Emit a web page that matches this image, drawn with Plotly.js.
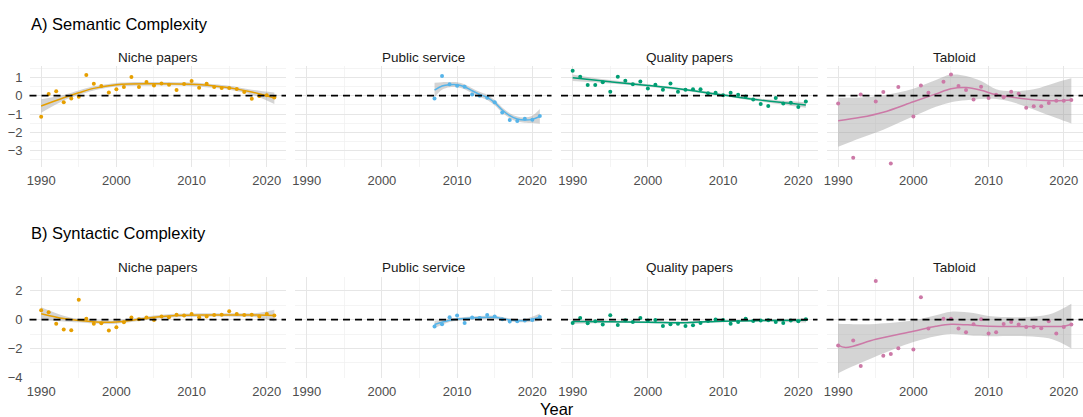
<!DOCTYPE html>
<html>
<head>
<meta charset="utf-8">
<script src="https://cdn.plot.ly/plotly-3.0.1.min.js"></script>
<style>
  html, body { margin: 0; padding: 0; background: #ffffff; }
  #chart { width: 1083px; height: 417px; }
</style>
</head>
<body>
<div id="chart"></div>
<script>
// ---------- data ----------
const groups = ["Niche papers", "Public service", "Quality papers", "Tabloid"];
const groupColors = ["#E69F00", "#56B4E9", "#009E73", "#CC79A7"];
const rowTitles = ["A) Semantic Complexity", "B) Syntactic Complexity"];

const yearsFull = [1990,1991,1992,1993,1994,1995,1996,1997,1998,1999,2000,2001,2002,2003,2004,2005,
                   2006,2007,2008,2009,2010,2011,2012,2013,2014,2015,2016,2017,2018,2019,2020,2021];
const yearsPublic = [2007,2008,2009,2010,2011,2012,2013,2014,2015,2016,2017,2018,2019,2020,2021];
const yearsTabloid = [1990,1992,1993,1995,1996,1997,1998,2000,2001,2002,2004,2005,2006,2007,2008,
                      2009,2010,2011,2012,2013,2014,2015,2016,2017,2018,2019,2020,2021];

// Semantic complexity, yearly means
const semNiche = [-1.15,0.09,0.24,-0.35,-0.15,-0.05,1.13,0.65,0.53,0.18,0.35,0.47,1.02,0.47,0.75,0.56,
                  0.67,0.6,0.31,0.64,0.8,0.44,0.65,0.47,0.42,0.42,0.36,0.2,-0.16,-0.02,0.02,-0.1];
const semPublic = [-0.15,1.07,0.62,0.55,0.49,0.07,0.0,-0.11,-0.36,-0.91,-1.33,-1.38,-1.25,-1.31,-1.11];
const semQuality = [1.36,1.04,0.58,0.58,0.73,0.22,1.04,0.82,0.62,0.78,0.4,0.6,0.33,0.67,0.22,0.33,
                    0.35,0.35,0.13,0.16,0.02,0.16,0.05,-0.04,-0.2,-0.45,-0.56,-0.13,-0.42,-0.38,-0.62,-0.31];
const semTabloid = [-0.42,-3.38,0.07,-0.31,0.2,-3.69,0.47,-1.13,0.56,0.16,0.76,1.16,0.53,0.31,-0.2,
                    0.49,-0.13,0.05,-0.09,0.22,0.11,-0.65,-0.58,-0.58,-0.4,-0.27,-0.27,-0.24];

// Syntactic complexity, yearly means
const synNiche = [0.64,0.51,-0.28,-0.69,-0.74,1.38,0.05,-0.28,-0.25,-0.76,-0.53,-0.18,0.14,0.02,0.14,-0.02,
                  0.21,0.16,0.34,0.28,0.39,0.16,0.21,0.32,0.34,0.57,0.39,0.32,0.34,0.21,0.39,0.28];
const synPublic = [-0.48,-0.32,0.16,0.28,-0.23,0.14,0.11,0.32,0.21,0.02,-0.14,-0.11,-0.07,-0.02,0.18];
const synQuality = [-0.23,0.11,-0.25,-0.11,-0.34,0.3,-0.37,-0.05,-0.16,0.11,-0.07,-0.02,-0.44,-0.32,-0.28,-0.44,
                    -0.39,-0.23,-0.09,0.0,-0.02,-0.28,-0.16,0.05,-0.09,-0.07,-0.05,-0.16,-0.23,-0.07,-0.11,0.02];
const synTabloid = [-1.79,-1.45,-3.22,2.67,-2.51,-2.39,-1.98,-2.07,1.54,-0.62,0.05,0.05,-0.62,-0.87,-0.32,
                    0.02,-0.97,-0.87,-0.3,-0.16,-0.34,-0.51,-0.51,-0.6,-0.11,-0.97,-0.51,-0.34];

// Smoothed trends with confidence bands
const fitSemNicheX = [1990,1993,1995,1997,2000,2005,2010,2013,2015,2018,2021];
const fitSemNiche  = [-0.56,-0.11,0.16,0.4,0.6,0.65,0.62,0.53,0.44,0.2,-0.13];
const fitSemNicheLo = [-0.93,-0.26,0.04,0.29,0.5,0.55,0.52,0.43,0.33,0.07,-0.45];
const fitSemNicheHi = [-0.19,0.04,0.28,0.51,0.7,0.75,0.72,0.63,0.55,0.33,0.17];

const fitSemPublicX = [2007,2008,2009,2010,2011,2012,2013,2014,2015,2016,2017,2018,2019,2020,2021];
const fitSemPublic  = [0.31,0.53,0.6,0.6,0.49,0.27,0.07,-0.09,-0.38,-0.78,-1.09,-1.27,-1.33,-1.29,-1.13];
const fitSemPublicLo = [-0.09,0.32,0.46,0.46,0.35,0.13,-0.07,-0.23,-0.52,-0.92,-1.23,-1.41,-1.48,-1.49,-1.53];
const fitSemPublicHi = [0.71,0.74,0.74,0.74,0.63,0.41,0.21,0.05,-0.24,-0.64,-0.95,-1.13,-1.18,-1.09,-0.73];

const fitSemQualityX = [1990,1995,2000,2005,2010,2015,2021];
const fitSemQuality  = [0.98,0.76,0.56,0.33,0.04,-0.24,-0.51];
const fitSemQualityLo = [0.8,0.67,0.49,0.26,-0.03,-0.32,-0.66];
const fitSemQualityHi = [1.16,0.85,0.63,0.4,0.11,-0.16,-0.36];

const fitSemTabloidX = [1990,1993,1996,2000,2003,2005,2007,2009,2011,2013,2016,2019,2021];
const fitSemTabloid  = [-1.36,-1.18,-0.9,-0.33,0.1,0.38,0.45,0.3,0.05,-0.07,-0.22,-0.28,-0.24];
const fitSemTabloidLo = [-2.78,-2.3,-1.85,-1.12,-0.6,-0.35,-0.25,-0.18,-0.18,-0.33,-0.75,-1.22,-1.52];
const fitSemTabloidHi = [-0.11,-0.1,0.02,0.38,0.85,1.15,1.08,0.8,0.35,0.25,0.35,0.72,0.95];

const fitSynNicheX = [1990,1993,1995,1998,2000,2003,2005,2008,2012,2016,2019,2021];
const fitSynNiche  = [0.41,0.07,-0.07,-0.18,-0.16,0.02,0.16,0.28,0.32,0.32,0.31,0.28];
const fitSynNicheLo = [-0.05,-0.13,-0.19,-0.3,-0.28,-0.1,0.04,0.16,0.2,0.2,0.15,-0.14];
const fitSynNicheHi = [0.86,0.27,0.05,-0.06,-0.04,0.14,0.28,0.4,0.44,0.44,0.47,0.68];

const fitSynPublicX = [2007,2009,2011,2013,2015,2017,2019,2021];
const fitSynPublic  = [-0.34,-0.05,0.07,0.14,0.16,-0.02,-0.07,0.16];
const fitSynPublicLo = [-0.6,-0.17,-0.04,0.03,0.05,-0.13,-0.19,-0.1];
const fitSynPublicHi = [-0.08,0.07,0.18,0.25,0.27,0.09,0.05,0.42];

const fitSynQualityX = [1990,1995,2000,2005,2010,2015,2021];
const fitSynQuality  = [-0.14,-0.15,-0.18,-0.21,-0.11,-0.07,-0.05];
const fitSynQualityLo = [-0.3,-0.24,-0.26,-0.29,-0.19,-0.15,-0.2];
const fitSynQualityHi = [0.02,-0.06,-0.1,-0.13,-0.03,0.01,0.1];

const fitSynTabloidX = [1990,1991,1995,2000,2003,2005,2008,2010,2015,2018,2020,2021];
const fitSynTabloid  = [-1.77,-1.93,-1.36,-0.8,-0.46,-0.32,-0.39,-0.46,-0.48,-0.48,-0.46,-0.32];
const fitSynTabloidLo = [-3.72,-3.45,-2.55,-1.55,-1.15,-1.0,-1.12,-1.15,-1.15,-1.3,-1.7,-2.0];
const fitSynTabloidHi = [-0.28,-0.3,-0.3,-0.05,0.3,0.55,0.45,0.25,0.18,0.35,0.8,1.1];

// ---------- panel setup ----------
const panels = [
  { x: yearsFull,    y: semNiche,   fx: fitSemNicheX,   f: fitSemNiche,   lo: fitSemNicheLo,   hi: fitSemNicheHi },
  { x: yearsPublic,  y: semPublic,  fx: fitSemPublicX,  f: fitSemPublic,  lo: fitSemPublicLo,  hi: fitSemPublicHi },
  { x: yearsFull,    y: semQuality, fx: fitSemQualityX, f: fitSemQuality, lo: fitSemQualityLo, hi: fitSemQualityHi },
  { x: yearsTabloid, y: semTabloid, fx: fitSemTabloidX, f: fitSemTabloid, lo: fitSemTabloidLo, hi: fitSemTabloidHi },
  { x: yearsFull,    y: synNiche,   fx: fitSynNicheX,   f: fitSynNiche,   lo: fitSynNicheLo,   hi: fitSynNicheHi },
  { x: yearsPublic,  y: synPublic,  fx: fitSynPublicX,  f: fitSynPublic,  lo: fitSynPublicLo,  hi: fitSynPublicHi },
  { x: yearsFull,    y: synQuality, fx: fitSynQualityX, f: fitSynQuality, lo: fitSynQualityLo, hi: fitSynQualityHi },
  { x: yearsTabloid, y: synTabloid, fx: fitSynTabloidX, f: fitSynTabloid, lo: fitSynTabloidLo, hi: fitSynTabloidHi }
];

const W = 1083, H = 417;
const FONT = "Liberation Sans, Arial, Helvetica, sans-serif";
const colLeft = [29.5, 295, 561, 826.5];   // px
const colWidth = 256.5;
const rowBox = [[66, 166.7], [276.7, 377.8]]; // px top, bottom
const rowRange = [[-3.87, 1.62], [-4.03, 2.97]];
const rowDtick = [1, 2];
const xRange = [1988.45, 2022.55];

const traces = [];
const layout = {
  width: W, height: H,
  margin: { l: 0, r: 0, t: 0, b: 0 },
  paper_bgcolor: "#ffffff",
  plot_bgcolor: "rgba(0,0,0,0)",
  showlegend: false,
  font: { family: FONT, size: 13, color: "#4d4d4d" },
  shapes: [],
  annotations: []
};

const gridMajor = "#e6e6e6";
const gridMinor = "#f0f0f0";

panels.forEach((p, i) => {
  const row = Math.floor(i / 4), col = i % 4;
  const n = i + 1;
  const xa = "x" + (n === 1 ? "" : n), ya = "y" + (n === 1 ? "" : n);
  const color = groupColors[col];

  // confidence band
  traces.push({ type: "scatter", mode: "lines", x: p.fx, y: p.lo, xaxis: xa, yaxis: ya,
    line: { width: 0, shape: "spline" }, hoverinfo: "skip" });
  traces.push({ type: "scatter", mode: "lines", x: p.fx, y: p.hi, xaxis: xa, yaxis: ya,
    line: { width: 0, shape: "spline" }, fill: "tonexty", fillcolor: "rgba(153,153,153,0.42)",
    hoverinfo: "skip" });
  // yearly points
  traces.push({ type: "scatter", mode: "markers", x: p.x, y: p.y, xaxis: xa, yaxis: ya,
    marker: { color: color, size: 4 } });
  // smoothed trend
  traces.push({ type: "scatter", mode: "lines", x: p.fx, y: p.f, xaxis: xa, yaxis: ya,
    line: { color: color, width: 1.5, shape: "spline" } });

  const x0 = colLeft[col] / W, x1 = (colLeft[col] + colWidth) / W;
  const yTop = 1 - rowBox[row][0] / H, yBot = 1 - rowBox[row][1] / H;

  layout["xaxis" + (n === 1 ? "" : n)] = {
    domain: [x0, Math.min(1, x1)], anchor: ya, range: xRange,
    tickvals: [1990, 2000, 2010, 2020], showgrid: true, gridcolor: gridMajor, gridwidth: 1,
    minor: { tickvals: [1995, 2005, 2015], showgrid: true, gridcolor: gridMinor, gridwidth: 0.7 },
    zeroline: false, showline: false, ticks: "", ticklabelstandoff: 4,
    tickfont: { family: FONT, size: 13, color: "#4d4d4d" }, fixedrange: true
  };
  layout["yaxis" + (n === 1 ? "" : n)] = {
    domain: [yBot, yTop], anchor: xa, range: rowRange[row],
    dtick: rowDtick[row], tick0: 0, showgrid: true, gridcolor: gridMajor, gridwidth: 1,
    minor: { dtick: rowDtick[row] / 2, tick0: 0, showgrid: true, gridcolor: gridMinor, gridwidth: 0.7 },
    zeroline: false, showline: false, ticks: "", ticklabelstandoff: 6,
    showticklabels: col === 0,
    tickfont: { family: FONT, size: 13, color: "#4d4d4d" }, fixedrange: true
  };

  // reference line at zero
  layout.shapes.push({ type: "line", layer: "above", xref: xa + " domain", x0: 0, x1: 1,
    yref: ya, y0: 0, y1: 0, line: { color: "#000000", width: 1.8, dash: "7px,5px" } });

  // facet strip label
  layout.annotations.push({ xref: "paper", yref: "paper", x: (x0 + Math.min(1, x1)) / 2,
    y: 1 - (rowBox[row][0] - 9) / H, xanchor: "center", yanchor: "middle", showarrow: false,
    text: groups[col], font: { family: FONT, size: 13.5, color: "#1a1a1a" } });
});

// row titles
rowTitles.forEach((t, r) => {
  layout.annotations.push({ xref: "paper", yref: "paper", x: 29 / W, y: 1 - (r === 0 ? 24 : 233) / H,
    xanchor: "left", yanchor: "middle", showarrow: false, text: t,
    font: { family: FONT, size: 16.5, color: "#000000" } });
});

// shared x-axis title
layout.annotations.push({ xref: "paper", yref: "paper", x: 557 / W, y: 1 - 409 / H,
  xanchor: "center", yanchor: "middle", showarrow: false, text: "Year",
  font: { family: FONT, size: 16.5, color: "#000000" } });

Plotly.newPlot("chart", traces, layout, { displayModeBar: false, staticPlot: true });
</script>
</body>
</html>
